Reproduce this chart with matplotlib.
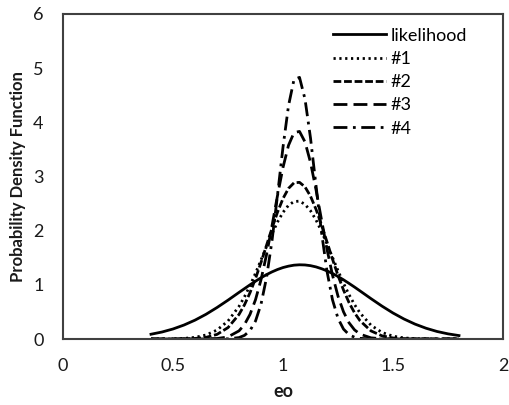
import matplotlib
matplotlib.use("Agg")
import matplotlib.pyplot as plt
from matplotlib.ticker import FuncFormatter

plt.rcParams["font.family"] = ["Lato", "DejaVu Sans"]

# values
eo = [0.40, 0.45, 0.50, 0.55, 0.60, 0.65, 0.70, 0.75, 0.80, 0.825,
      0.85, 0.875, 0.90, 0.925, 0.95, 0.975, 1.00, 1.025, 1.05, 1.075,
      1.10, 1.125, 1.15, 1.175, 1.20, 1.225, 1.25, 1.275, 1.30, 1.325,
      1.35, 1.40, 1.45, 1.50, 1.55, 1.60, 1.65, 1.70, 1.75, 1.80]

likelihood = [0.088, 0.129, 0.185, 0.258, 0.348, 0.456, 0.581, 0.717, 0.860, 0.930,
              1.000, 1.067, 1.130, 1.188, 1.239, 1.283, 1.319, 1.345, 1.363, 1.370,
              1.367, 1.354, 1.331, 1.298, 1.258, 1.209, 1.154, 1.093, 1.027, 0.959,
              0.888, 0.745, 0.607, 0.480, 0.369, 0.275, 0.199, 0.139, 0.095, 0.063]

s1 = [0.000, 0.001, 0.004, 0.011, 0.030, 0.074, 0.165, 0.332, 0.602, 0.781,
      0.986, 1.214, 1.458, 1.705, 1.943, 2.159, 2.338, 2.468, 2.538, 2.545,
      2.486, 2.368, 2.198, 1.988, 1.754, 1.507, 1.262, 1.030, 0.820, 0.636,
      0.481, 0.254, 0.121, 0.052, 0.020, 0.007, 0.002, 0.001, 0.000, 0.000]

s2 = [0.000, 0.000, 0.001, 0.003, 0.010, 0.030, 0.085, 0.210, 0.453, 0.632,
      0.854, 1.116, 1.412, 1.728, 2.044, 2.341, 2.593, 2.780, 2.883, 2.892,
      2.808, 2.637, 2.396, 2.106, 1.791, 1.474, 1.173, 0.904, 0.673, 0.485,
      0.338, 0.149, 0.058, 0.019, 0.006, 0.002, 0.000, 0.000, 0.000, 0.000]

s3 = [0.000, 0.000, 0.000, 0.000, 0.000, 0.001, 0.008, 0.039, 0.150, 0.268,
      0.454, 0.725, 1.093, 1.555, 2.089, 2.648, 3.167, 3.575, 3.810, 3.832,
      3.638, 3.261, 2.757, 2.201, 1.658, 1.179, 0.791, 0.502, 0.300, 0.169,
      0.090, 0.021, 0.004, 0.001, 0.000, 0.000, 0.000, 0.000, 0.000, 0.000]

s4 = [0.000, 0.000, 0.000, 0.000, 0.000, 0.000, 0.000, 0.003, 0.026, 0.067,
      0.156, 0.331, 0.641, 1.130, 1.814, 2.655, 3.542, 4.306, 4.790, 4.830,
      4.430, 3.711, 2.834, 1.972, 1.251, 0.723, 0.381, 0.183, 0.080, 0.032,
      0.012, 0.001, 0.000, 0.000, 0.000, 0.000, 0.000, 0.000, 0.000, 0.000]

labels = ["likelihood", "#1", "#2", "#3", "#4"]
x_ticks = [0, 0.5, 1, 1.5, 2]
y_ticks = [0, 1, 2, 3, 4, 5, 6]

fig = plt.figure(figsize=(5.1, 4.05), dpi=100)
ax = fig.add_axes([63 / 510, 66 / 405, 440 / 510, 325 / 405])

lw = 2.0
ax.plot(eo, likelihood, color="black", lw=lw, ls="-", label=labels[0])
ax.plot(eo, s1, color="black", lw=lw, ls=(0, (0.8, 1.3)), label=labels[1])
ax.plot(eo, s2, color="black", lw=lw, ls=(0, (2.8, 1.0)), label=labels[2])
ax.plot(eo, s3, color="black", lw=lw, ls=(0, (5, 2.2)), label=labels[3])
ax.plot(eo, s4, color="black", lw=lw, ls=(0, (5, 2, 1, 2)), label=labels[4])

ax.set_xlim(0, 2)
ax.set_ylim(0, 6)
ax.set_xticks(x_ticks)
ax.set_yticks(y_ticks)
ax.xaxis.set_major_formatter(FuncFormatter(lambda v, p: f"{v:g}"))
ax.tick_params(length=0, labelsize=13, colors="#1a1a1a", pad=14)
for sp in ax.spines.values():
    sp.set_color("#404040")
    sp.set_linewidth(1.5)

ax.set_xlabel("eo", fontsize=13, fontweight="bold", labelpad=6, color="#1a1a1a")
ax.set_ylabel("Probability Density Function", fontsize=12, fontweight="bold",
              labelpad=5, color="#1a1a1a")

ax.legend(loc="upper left", bbox_to_anchor=(0.614, 0.958), frameon=False,
          fontsize=13, handlelength=2.9, handletextpad=0.28, labelspacing=0.4,
          borderpad=0, borderaxespad=0)

fig.savefig("out.png", dpi=100)
